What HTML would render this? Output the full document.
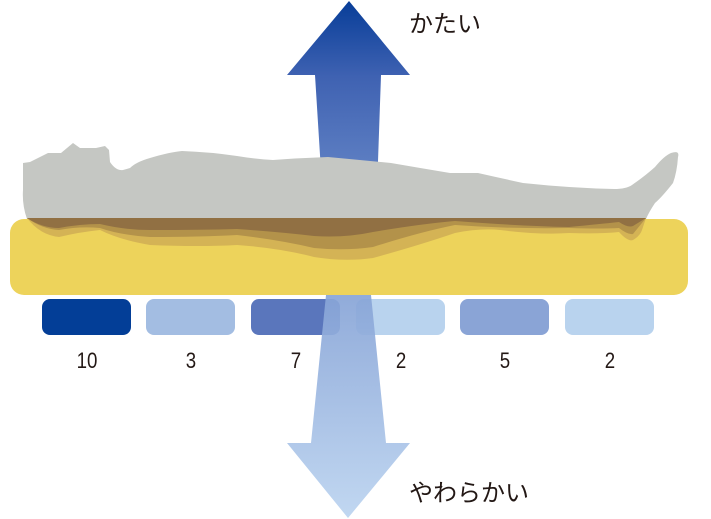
<!DOCTYPE html>
<html><head><meta charset="utf-8"><style>
html,body{margin:0;padding:0;background:#fff;width:711px;height:519px;overflow:hidden}
svg{display:block}
text{font-family:"Liberation Sans","Noto Sans CJK JP",sans-serif}
</style></head><body>
<svg width="711" height="519" viewBox="0 0 711 519">
<defs>
<linearGradient id="g1" x1="0" y1="0" x2="0" y2="220" gradientUnits="userSpaceOnUse">
<stop offset="0" stop-color="#073d98"/><stop offset="0.35" stop-color="#3f62b2"/><stop offset="1" stop-color="#6f8fcc"/>
</linearGradient>
<linearGradient id="g2" x1="0" y1="290" x2="0" y2="519" gradientUnits="userSpaceOnUse">
<stop offset="0" stop-color="#86a3d6"/><stop offset="1" stop-color="#bcd4f0"/>
</linearGradient>
</defs>
<!-- top arrow -->
<path d="M349,1 L410,75 L381,75 L376,219 L324,219 L315,75 L287,75 Z" fill="url(#g1)"/>
<!-- mattress -->
<rect x="10" y="219" width="678" height="76" rx="14" fill="#edd35b"/>
<!-- person -->
<path d="M23,163 L30,162 L48,153 L61,153 L73,143 L80,148 L96,148 L105,146 L109,150 L110,162 Q116,171 123,170 L130,168 Q136,162 150,158 Q170,152 182,151 Q210,152 237,156 Q255,159 273,160 Q300,158 328,157 Q360,160 391,163 Q420,168 450,173 L478,173 Q500,178 523,183 Q570,188 614,189 Q626,189 632,185 Q645,176 655,167 Q664,156 671,153 Q680,150 678,157 Q677,172 673,183 Q662,197 655,203 Q649,212 646,219 L27,219 Q22,205 23,190 Z" fill="#c5c7c3"/>
<!-- layers -->
<path d="M27,218 Q40,235 59,237 Q80,232 100,230 Q120,240 150,245 Q200,247 237,245 Q280,248 314,257 Q345,262 373,258 Q420,245 455,233 Q480,228 500,230 Q540,235 569,233 Q600,234 619,232 Q628,242 633,240 Q640,236 642,230 L646,218 Z" fill="#d4b355"/>
<path d="M27,218 Q42,229 59,230 Q80,226 100,228 Q120,235 150,237 Q200,237 237,235 Q280,240 314,248 Q345,251 373,247 Q420,232 455,225 Q510,229 569,228 Q600,229 619,228 Q628,235 633,234 L646,218 Z" fill="#b3924a"/>
<path d="M27,218 Q42,228 59,228 Q80,224 100,224 Q125,230 150,230 Q200,230 237,229 Q280,232 314,236 Q345,238 373,232 Q420,224 455,221 Q520,226 569,227 Q600,224 619,222 Q628,228 633,226 L646,218 Z" fill="#917043"/>
<!-- blocks -->
<rect x="42" y="299" width="89" height="36" rx="8" fill="#033e97"/>
<rect x="146" y="299" width="89" height="36" rx="8" fill="#a3bde2"/>
<rect x="251" y="299" width="89" height="36" rx="8" fill="#5a76bc"/>
<rect x="356" y="299" width="89" height="36" rx="8" fill="#b9d3ee"/>
<rect x="460" y="299" width="89" height="36" rx="8" fill="#8aa4d6"/>
<rect x="565" y="299" width="89" height="36" rx="8" fill="#b9d3ee"/>
<!-- bottom arrow -->
<path d="M326,295 L371,295 L386,443 L410,443 L348,518 L287,443 L311,443 Z" fill="url(#g2)" opacity="0.92"/>
<g font-size="22" fill="#231815" text-anchor="middle" transform="scale(0.85,1)">
<text x="102.4" y="368">10</text><text x="224.7" y="368">3</text><text x="348.2" y="368">7</text>
<text x="471.8" y="368">2</text><text x="594.1" y="368">5</text><text x="717.6" y="368">2</text>
</g>
<text x="409" y="32" font-size="24" fill="#231815">かたい</text>
<text x="409" y="501" font-size="24" fill="#231815">やわらかい</text>
</svg>
</body></html>
